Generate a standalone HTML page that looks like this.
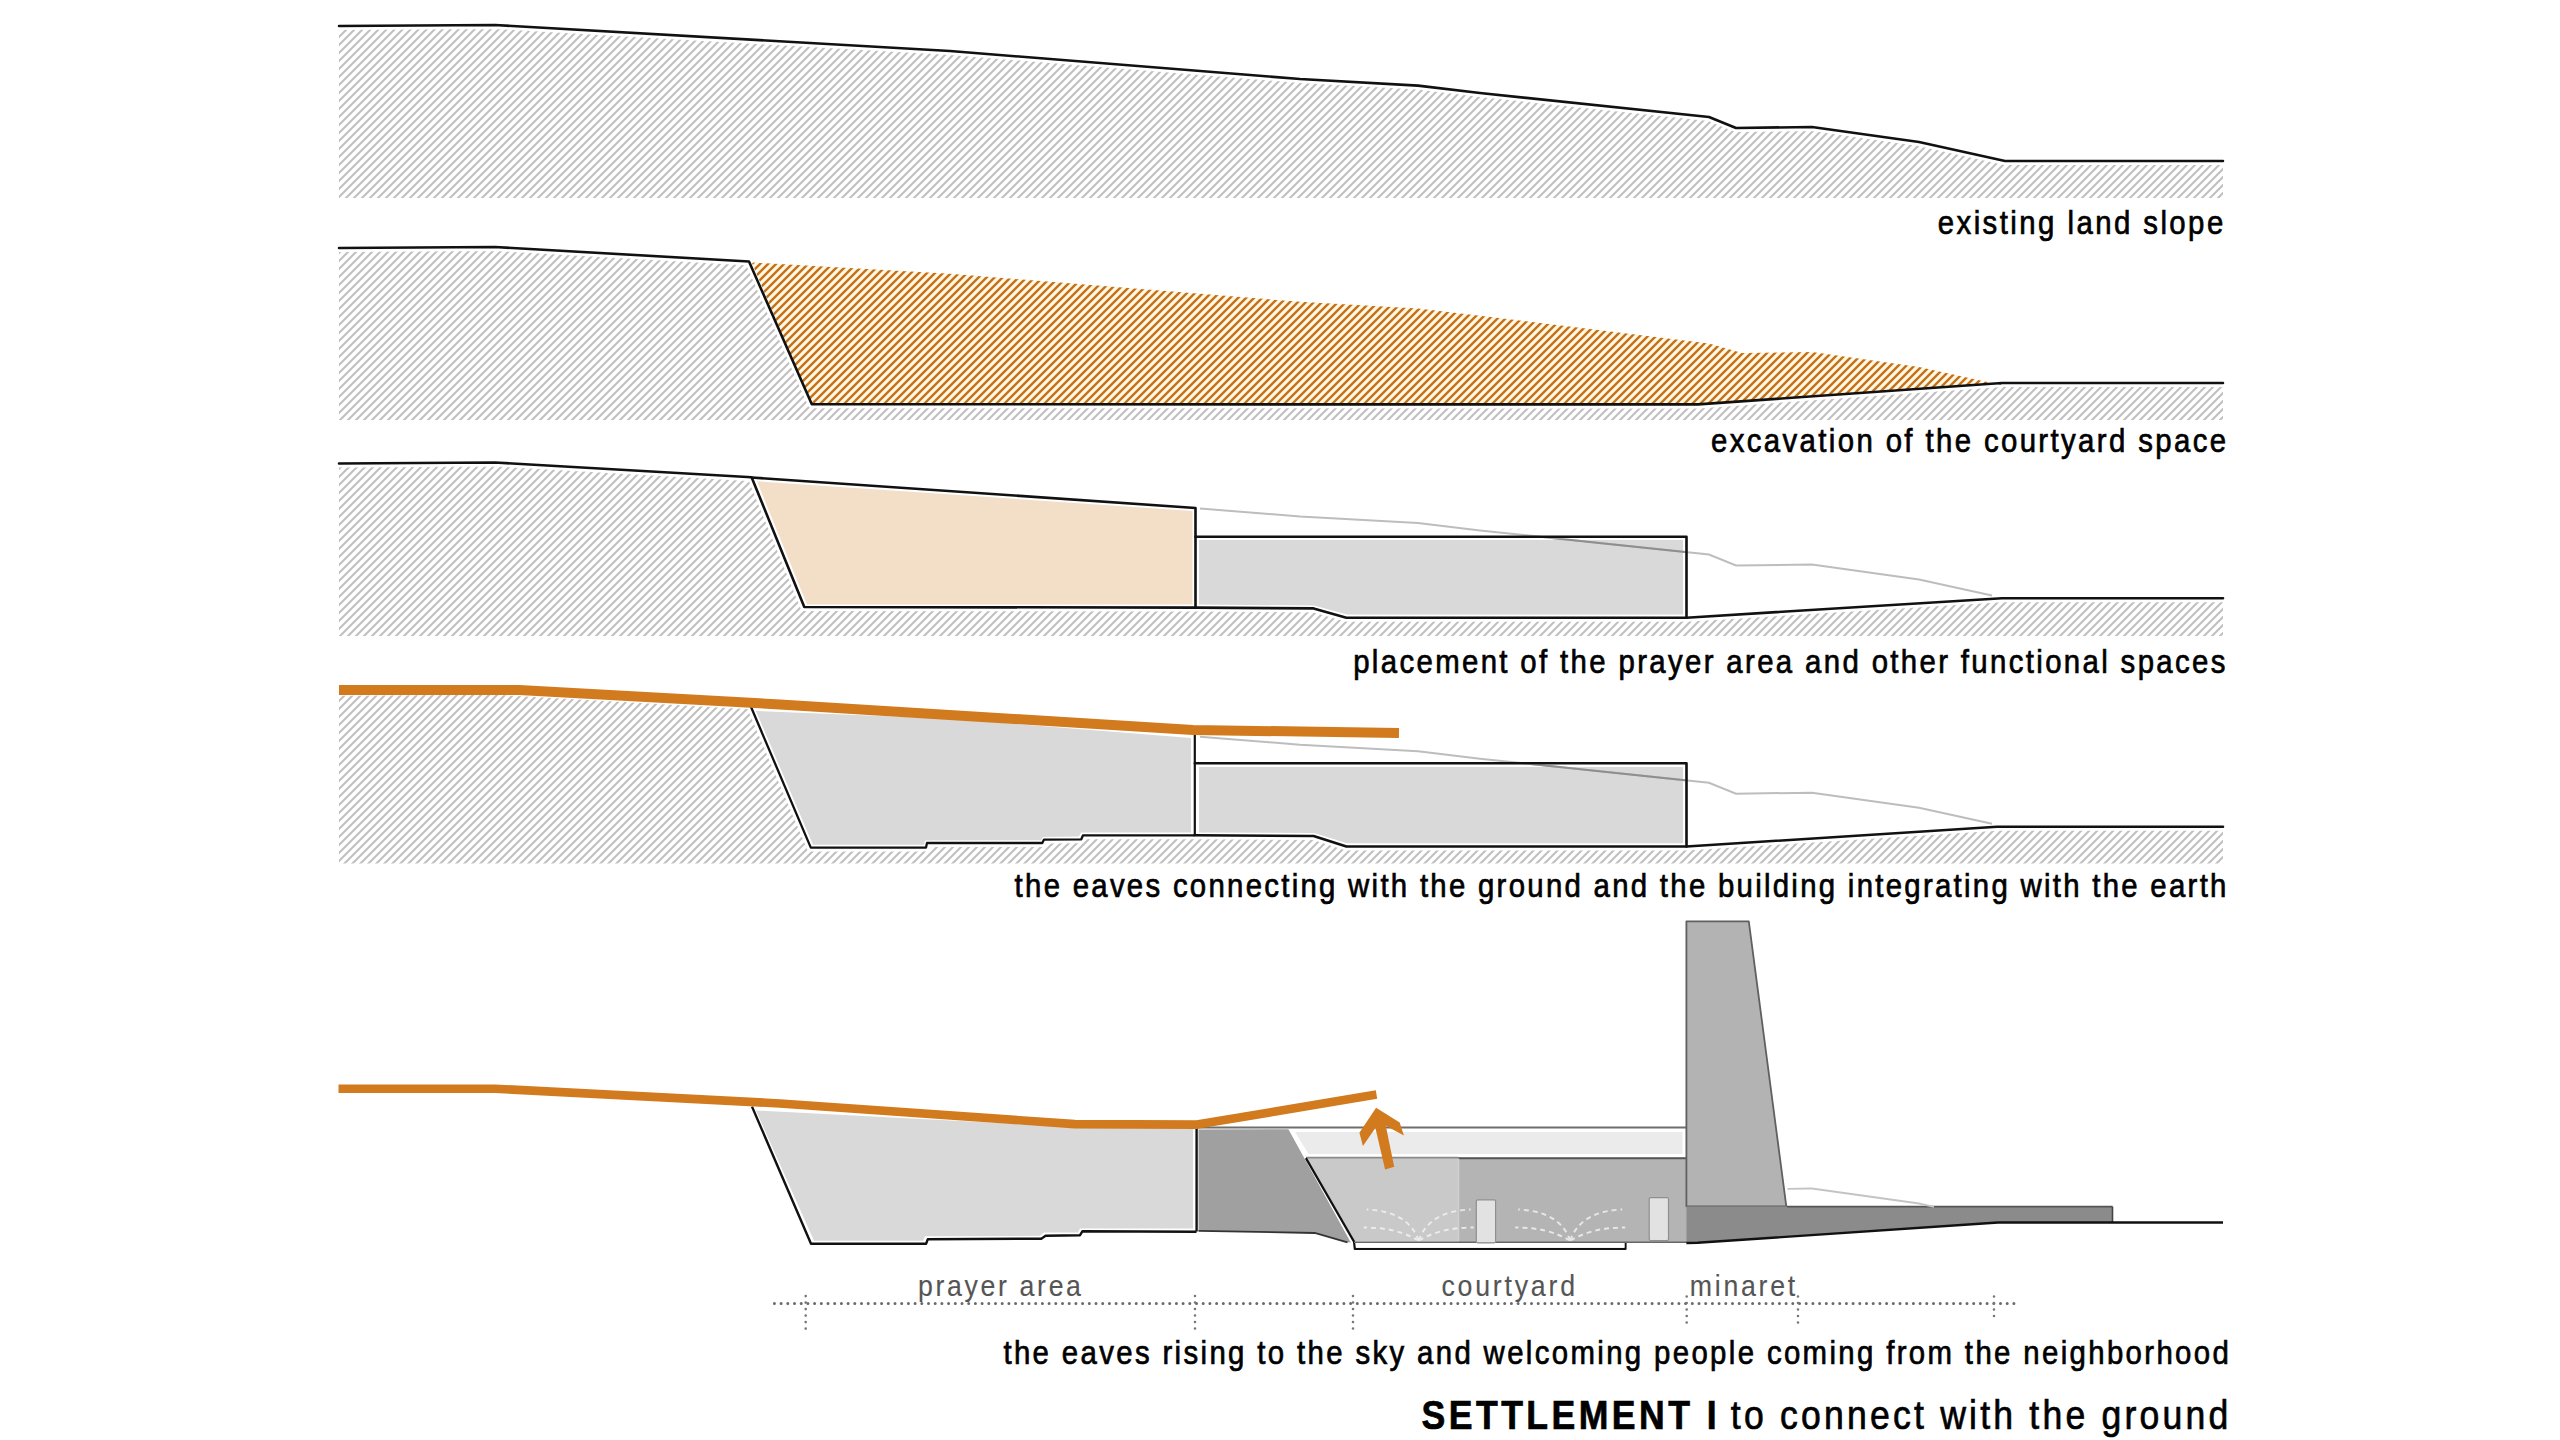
<!DOCTYPE html>
<html><head><meta charset="utf-8"><style>
html,body{margin:0;padding:0;background:#fff;width:2560px;height:1440px;overflow:hidden}
svg{display:block}
text{font-family:"Liberation Sans",sans-serif}
</style></head><body>
<svg width="2560" height="1440" viewBox="0 0 2560 1440">
<defs>
<pattern id="hg" patternUnits="userSpaceOnUse" width="8" height="8">
<path d="M-2,2 L2,-2 M0,8 L8,0 M6,10 L10,6" stroke="#c0c0c0" stroke-width="2.1" fill="none"/>
</pattern>
<clipPath id="cb3"><rect x="1197" y="538.5" width="488" height="78"/></clipPath>
<clipPath id="cb4"><rect x="1197" y="765" width="488" height="80"/></clipPath>
<pattern id="ho" patternUnits="userSpaceOnUse" width="8" height="8">
<rect width="8" height="8" fill="#fff8e2"/>
<path d="M-2,2 L2,-2 M0,8 L8,0 M6,10 L10,6" stroke="#c4711a" stroke-width="2.4" fill="none"/>
</pattern>
</defs>
<polygon points="339.0,26.0 495.0,25.0 950.0,51.0 1300.0,79.0 1418.0,85.6 1480.0,93.0 1709.0,117.0 1736.0,128.0 1812.0,127.0 1919.0,142.0 2005.0,161.0 2223.0,161.0 2223.0,198.0 339.0,198.0" fill="url(#hg)"/>
<polyline points="339.0,26.0 495.0,25.0 950.0,51.0 1300.0,79.0 1418.0,85.6 1480.0,93.0 1709.0,117.0 1736.0,128.0 1812.0,127.0 1919.0,142.0 2005.0,161.0 2223.0,161.0" fill="none" stroke="#fff" stroke-width="8" stroke-linejoin="round"/>
<polyline points="339.0,26.0 495.0,25.0 950.0,51.0 1300.0,79.0 1418.0,85.6 1480.0,93.0 1709.0,117.0 1736.0,128.0 1812.0,127.0 1919.0,142.0 2005.0,161.0 2223.0,161.0" fill="none" stroke="#111" stroke-width="2.6" stroke-linejoin="round" stroke-linecap="round"/>
<polygon points="339.0,248.0 495.0,247.0 749.0,261.5 749.0,261.3 811.8,404.3 1698.0,404.4 2002.0,383.0 2223.0,383.0 2223.0,420.0 339.0,420.0" fill="url(#hg)"/>
<polyline points="339.0,248.0 495.0,247.0 749.0,261.5 811.8,404.3 1698.0,404.4 2002.0,383.0 2223.0,383.0" fill="none" stroke="#fff" stroke-width="8" stroke-linejoin="round"/>
<polygon points="754.0,262.6 950.0,273.8 1300.0,301.8 1418.0,308.4 1480.0,315.8 1709.0,343.5 1742.0,353.0 1812.0,352.0 1919.0,367.0 2002.0,385.3 2002.0,383.0 1698.0,404.4 811.8,404.3 752.0,263.0" fill="url(#ho)"/>
<polyline points="339.0,248.0 495.0,247.0 749.0,261.5 811.8,404.3 1698.0,404.4 2002.0,383.0 2223.0,383.0" fill="none" stroke="#111" stroke-width="2.6" stroke-linejoin="round" stroke-linecap="round"/>
<polygon points="339.0,463.5 495.0,462.5 751.6,477.2 751.6,477.5 804.3,607.0 1195.5,607.6 1313.6,608.4 1346.4,617.7 1686.5,617.7 2002.0,598.2 2223.0,598.2 2223.0,636.0 339.0,636.0" fill="url(#hg)"/>
<polyline points="339.0,463.5 495.0,462.5 751.6,477.2 804.3,607.0 1195.5,607.6 1313.6,608.4 1346.4,617.7 1686.5,617.7 2002.0,598.2 2223.0,598.2" fill="none" stroke="#fff" stroke-width="8" stroke-linejoin="round"/>
<polygon points="757,481.3 1192.5,511 1192.5,604.5 807,604.5" fill="#f3dfc8"/>
<polygon points="1199,540 1683,540 1683,614.5 1347,614.5 1314,605.5 1199,604.5" fill="#d9d9d9"/>
<polyline points="1200.0,508.5 1300.0,516.5 1418.0,523.1 1480.0,530.5 1709.0,554.5 1736.0,565.5 1812.0,564.5 1919.0,579.5 1992.0,595.6" fill="none" stroke="#bdbdbd" stroke-width="2"/>
<polyline points="1200.0,508.5 1300.0,516.5 1418.0,523.1 1480.0,530.5 1709.0,554.5 1736.0,565.5 1812.0,564.5 1919.0,579.5 1992.0,595.6" fill="none" stroke="#8e8e8e" stroke-width="2" clip-path="url(#cb3)"/>
<polyline points="339.0,463.5 495.0,462.5 751.6,477.2 804.3,607.0 1195.5,607.6 1313.6,608.4 1346.4,617.7 1686.5,617.7 2002.0,598.2 2223.0,598.2" fill="none" stroke="#111" stroke-width="2.6" stroke-linejoin="round" stroke-linecap="round"/>
<polyline points="751.6,477.5 1195.5,508 1195.5,607.6" fill="none" stroke="#111" stroke-width="2.6" stroke-linejoin="round" stroke-linecap="round"/>
<polyline points="1195.5,536.7 1686.5,536.7 1686.5,617.7" fill="none" stroke="#111" stroke-width="2.6" stroke-linejoin="round" stroke-linecap="round"/>
<polygon points="339.0,691.7 495.0,690.7 750.3,705.3 750.3,707.0 810.8,847.6 926.0,847.6 927.0,843.0 1042.3,843.0 1044.0,839.6 1081.3,839.3 1083.0,835.3 1194.6,835.3 1313.6,836.0 1346.4,846.5 1686.5,846.5 1997.0,826.8 2223.0,826.8 2223.0,863.5 339.0,863.5" fill="url(#hg)"/>
<polyline points="339.0,691.7 495.0,690.7 750.3,705.3 810.8,847.6 926.0,847.6 927.0,843.0 1042.3,843.0 1044.0,839.6 1081.3,839.3 1083.0,835.3 1194.6,835.3 1313.6,836.0 1346.4,846.5 1686.5,846.5 1997.0,826.8 2223.0,826.8" fill="none" stroke="#fff" stroke-width="8" stroke-linejoin="round"/>
<polygon points="756.0,711.0 950.0,718.7 1191.0,738.0 1191.0,832.5 1081.0,832.5 1079.0,836.5 1043.0,837.0 1041.0,840.2 925.0,840.4 924.0,844.8 813.0,844.8" fill="#d9d9d9"/>
<polygon points="1199,767 1683,767 1683,843.3 1347,843.3 1314,833 1199,832.5" fill="#d9d9d9"/>
<polyline points="1200.0,736.7 1300.0,744.7 1418.0,751.3 1480.0,758.7 1709.0,782.7 1736.0,793.7 1812.0,792.7 1919.0,807.7 1992.0,823.8" fill="none" stroke="#bdbdbd" stroke-width="2"/>
<polyline points="1200.0,736.7 1300.0,744.7 1418.0,751.3 1480.0,758.7 1709.0,782.7 1736.0,793.7 1812.0,792.7 1919.0,807.7 1992.0,823.8" fill="none" stroke="#8e8e8e" stroke-width="2" clip-path="url(#cb4)"/>
<polyline points="339.0,691.7 495.0,690.7 750.3,705.3 810.8,847.6 926.0,847.6 927.0,843.0 1042.3,843.0 1044.0,839.6 1081.3,839.3 1083.0,835.3 1194.6,835.3" fill="none" stroke="#111" stroke-width="2.3" stroke-linejoin="round"/>
<polyline points="1194.6,835.3 1313.6,836.0 1346.4,846.5 1686.5,846.5 1997.0,826.8 2223.0,826.8" fill="none" stroke="#111" stroke-width="2.6" stroke-linejoin="round" stroke-linecap="round"/>
<polyline points="1194.8,731 1194.8,835.3" fill="none" stroke="#111" stroke-width="2.2"/>
<polyline points="1194.8,763.3 1686.5,763.3 1686.5,846.5" fill="none" stroke="#111" stroke-width="2.6" stroke-linejoin="round" stroke-linecap="round"/>
<polyline points="339,690 519,690 780,704.5 1193,730 1399,733" fill="none" stroke="#d27a1e" stroke-width="10" stroke-linejoin="round"/>
<polygon points="756,1110.5 1076,1127 1193,1128.5 1193,1228.5 1080,1228.5 1078,1232.5 1044,1232.6 1040,1235.8 925,1236.2 923,1240.8 814,1240.8" fill="#d9d9d9"/>
<polyline points="752.0,1106.6 811.0,1243.8 926.1,1243.8 927.8,1239.2 1041.3,1238.7 1045.6,1235.8 1080.0,1235.2 1082.5,1231.2 1196.5,1231.8" fill="none" stroke="#111" stroke-width="2.4" stroke-linejoin="round"/>
<polyline points="1196.6,1126 1196.6,1231.5" fill="none" stroke="#111" stroke-width="2.4"/>
<polygon points="1198.5,1129.5 1288.4,1129.3 1350.8,1242.6 1347.5,1242.3 1314.7,1233 1198.5,1230.8" fill="#a0a0a0"/>
<polyline points="1198.5,1230.8 1314.7,1233 1347.5,1242.3" fill="none" stroke="#333" stroke-width="1.8"/>
<line x1="1197" y1="1127.4" x2="1687" y2="1127.4" stroke="#6e6e6e" stroke-width="2"/>
<polygon points="1295,1132 1682.5,1132 1682.5,1154 1308.5,1154" fill="#ebebeb"/>
<polygon points="1306,1157.6 1687,1157.6 1687,1242 1354,1241.5" fill="#c9c9c9"/>
<line x1="1306" y1="1157.6" x2="1458" y2="1157.6" stroke="#8a8a8a" stroke-width="1.6"/>
<rect x="1458" y="1158.2" width="228.6" height="83.8" fill="#b5b4b5"/>
<line x1="1458" y1="1158.2" x2="1687" y2="1158.2" stroke="#555" stroke-width="2"/>
<line x1="1458.5" y1="1158.5" x2="1458.5" y2="1242" stroke="#d0d0d0" stroke-width="1.5"/>
<polyline points="1305.9,1158.1 1354,1241.6 1354.8,1248.9 1625.5,1248.9 1625.5,1243" fill="none" stroke="#111" stroke-width="2.2" stroke-linejoin="round"/>
<rect x="1356" y="1243" width="268.5" height="4.8" fill="#fff"/>
<line x1="1354" y1="1242.2" x2="1687" y2="1242.2" stroke="#666" stroke-width="1.6"/>
<rect x="1476.3" y="1199.8" width="19.3" height="43" rx="1.5" fill="#e2e2e2" stroke="#8f8f8f" stroke-width="1.2"/>
<rect x="1649.2" y="1197.6" width="19.3" height="43" rx="1.5" fill="#e2e2e2" stroke="#8f8f8f" stroke-width="1.2"/>
<path d="M1418.7,1240.5 C1410.7,1218.5 1390.7,1210.5 1366.7,1209.5 M1418.7,1240.5 C1400.7,1230.5 1383.7,1227.5 1363.7,1227.5 M1418.7,1240.5 C1426.7,1218.5 1446.7,1210.5 1470.7,1209.5 M1418.7,1240.5 C1436.7,1230.5 1453.7,1227.5 1473.7,1227.5 M1570.2,1240.5 C1562.2,1218.5 1542.2,1210.5 1518.2,1209.5 M1570.2,1240.5 C1552.2,1230.5 1535.2,1227.5 1515.2,1227.5 M1570.2,1240.5 C1578.2,1218.5 1598.2,1210.5 1622.2,1209.5 M1570.2,1240.5 C1588.2,1230.5 1605.2,1227.5 1625.2,1227.5" fill="none" stroke="#f4f4f4" stroke-width="2" stroke-dasharray="5 4" opacity="0.8"/>
<polygon points="1686.4,921.3 1748.8,921.3 1786.3,1206.3 1686.4,1206.3" fill="#b3b3b3" stroke="#606060" stroke-width="1.8" stroke-linejoin="round"/>
<polygon points="1686.4,1206.6 2112.5,1206.6 2112.5,1222.5 1998,1222.5 1697.5,1242.5 1686.4,1242.5" fill="#8b8b8b"/>
<line x1="1787" y1="1206.6" x2="2112.5" y2="1206.6" stroke="#555" stroke-width="1.6"/>
<line x1="2112.5" y1="1206.6" x2="2112.5" y2="1222.5" stroke="#444" stroke-width="1.6"/>
<polyline points="1686.4,1243 1697.5,1242.8 1998,1222.5 2223,1222.5" fill="none" stroke="#111" stroke-width="2.4" stroke-linejoin="round"/>
<polyline points="1787.5,1188.9 1810.8,1188.5 1812.0,1188.5 1919.0,1203.5 1934.0,1206.8" fill="none" stroke="#c4c4c4" stroke-width="1.8"/>
<polyline points="338.5,1088.7 495,1088.7 780,1103.5 1074.7,1124.1 1197,1124.6 1376.5,1094.6" fill="none" stroke="#d27a1e" stroke-width="8.6" stroke-linejoin="round"/>
<polygon points="1376.1,1107.8 1399.7,1122.4 1403.9,1135.6 1385.8,1125.8 1394.2,1166.8 1385.1,1169.6 1375.4,1127.9 1362.9,1146 1359.4,1132.8" fill="#d27a1e"/>
<line x1="774.4" y1="1303.6" x2="2020.6" y2="1303.6" stroke="#6a6a6a" stroke-width="3" stroke-linecap="round" stroke-dasharray="0 6.7"/>
<line x1="805.7" y1="1296.1" x2="805.7" y2="1330" stroke="#777" stroke-width="2.6" stroke-linecap="round" stroke-dasharray="0 6.5"/>
<line x1="1195" y1="1296" x2="1195" y2="1330" stroke="#777" stroke-width="2.6" stroke-linecap="round" stroke-dasharray="0 6.5"/>
<line x1="1353" y1="1296" x2="1353" y2="1330" stroke="#777" stroke-width="2.6" stroke-linecap="round" stroke-dasharray="0 6.5"/>
<line x1="1686.7" y1="1296.5" x2="1686.7" y2="1328" stroke="#777" stroke-width="2.6" stroke-linecap="round" stroke-dasharray="0 6.5"/>
<line x1="1798" y1="1296.5" x2="1798" y2="1328" stroke="#777" stroke-width="2.6" stroke-linecap="round" stroke-dasharray="0 6.5"/>
<line x1="1994" y1="1296.5" x2="1994" y2="1317" stroke="#777" stroke-width="2.6" stroke-linecap="round" stroke-dasharray="0 6.5"/>
<text transform="translate(1937.8,234.2) scale(0.89,1)" x="0" y="0" font-size="33" fill="#000" font-weight="normal" textLength="320.7" lengthAdjust="spacing" stroke="#000" stroke-width="0.7">existing land slope</text>
<text transform="translate(1711.0,452) scale(0.89,1)" x="0" y="0" font-size="33" fill="#000" font-weight="normal" textLength="578.7" lengthAdjust="spacing" stroke="#000" stroke-width="0.7">excavation of the courtyard space</text>
<text transform="translate(1353.2,672.5) scale(0.89,1)" x="0" y="0" font-size="33" fill="#000" font-weight="normal" textLength="980.0" lengthAdjust="spacing" stroke="#000" stroke-width="0.7">placement of the prayer area and other functional spaces</text>
<text transform="translate(1014.6,897) scale(0.89,1)" x="0" y="0" font-size="33" fill="#000" font-weight="normal" textLength="1361.6" lengthAdjust="spacing" stroke="#000" stroke-width="0.7">the eaves connecting with the ground and the building integrating with the earth</text>
<text transform="translate(1003.4,1364.2) scale(0.89,1)" x="0" y="0" font-size="33" fill="#000" font-weight="normal" textLength="1376.9" lengthAdjust="spacing" stroke="#000" stroke-width="0.7">the eaves rising to the sky and welcoming people coming from the neighborhood</text>
<text transform="translate(918.0,1296) scale(0.89,1)" x="0" y="0" font-size="30" fill="#555" font-weight="normal" textLength="183.1" lengthAdjust="spacing" stroke="#555" stroke-width="0.15">prayer area</text>
<text transform="translate(1441.4,1295.5) scale(0.89,1)" x="0" y="0" font-size="30" fill="#555" font-weight="normal" textLength="150.1" lengthAdjust="spacing" stroke="#555" stroke-width="0.15">courtyard</text>
<text transform="translate(1689.8,1295.5) scale(0.89,1)" x="0" y="0" font-size="30" fill="#555" font-weight="normal" textLength="118.4" lengthAdjust="spacing" stroke="#555" stroke-width="0.15">minaret</text>
<text transform="translate(1421.6,1428.6) scale(0.89,1)" x="0" y="0" font-size="40" fill="#000" font-weight="bold" textLength="331.5" lengthAdjust="spacing" stroke="#000" stroke-width="0.7">SETTLEMENT I</text>
<text transform="translate(1730.8,1428.6) scale(0.89,1)" x="0" y="0" font-size="40" fill="#000" font-weight="normal" textLength="559.1" lengthAdjust="spacing" stroke="#000" stroke-width="0.7">to connect with the ground</text>
</svg>
</body></html>
